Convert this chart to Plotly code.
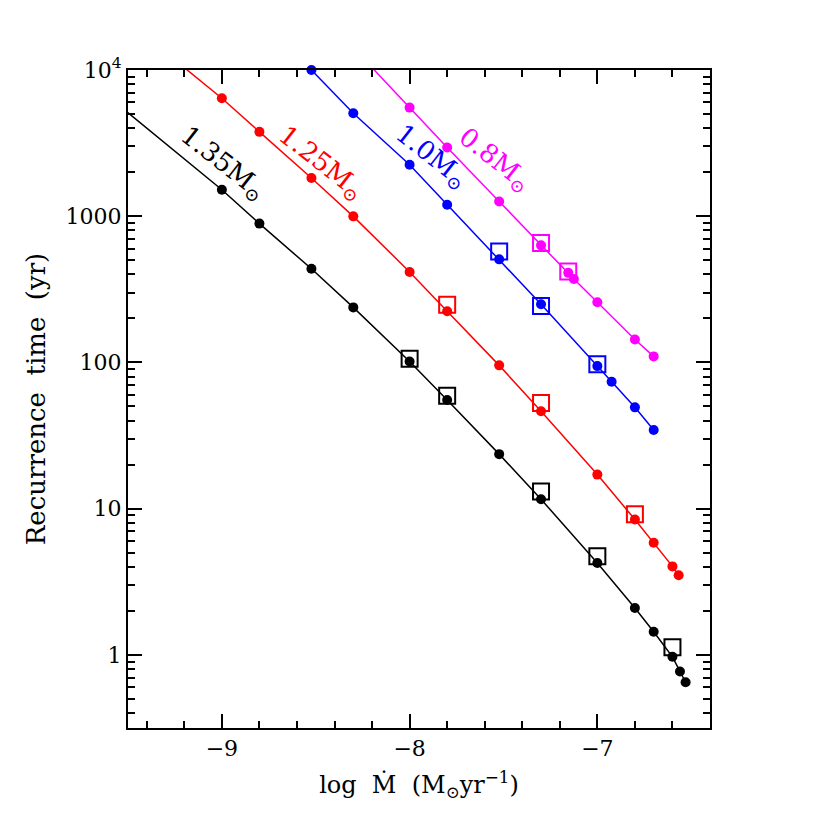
import plotly.graph_objects as go

# --- data (log Mdot, recurrence time in yr) ---
black_x = [-9.7, -9.0, -8.8, -8.523, -8.3, -8.0, -7.8, -7.523, -7.3, -7.0, -6.8, -6.7, -6.6, -6.56, -6.53]
black_y = [8300, 1517, 890, 437, 238, 101.6, 55.3, 23.6, 11.6, 4.25, 2.09, 1.44, 0.97, 0.77, 0.65]
black_sq_x = [-8.0, -7.8, -7.3, -7.0, -6.6]
black_sq_y = [106, 59.3, 13.1, 4.72, 1.13]

red_x = [-9.3, -9.0, -8.8, -8.523, -8.3, -8.0, -7.8, -7.523, -7.3, -7.0, -6.8, -6.7, -6.6, -6.567]
red_y = [13200, 6410, 3776, 1824, 998, 416, 224, 95.5, 46.4, 17.1, 8.43, 5.85, 4.03, 3.5]
red_sq_x = [-7.8, -7.3, -6.8]
red_sq_y = [248, 52.7, 9.17]

blue_x = [-8.523, -8.3, -8.0, -7.8, -7.523, -7.3, -7.0, -6.924, -6.8, -6.7]
blue_y = [10000, 5060, 2248, 1197, 507, 250, 94.4, 73.8, 49.3, 34.5]
blue_sq_x = [-7.523, -7.3, -7.0]
blue_sq_y = [573, 243, 97.2]

mag_x = [-8.3, -8.0, -7.8, -7.523, -7.3, -7.155, -7.125, -7.0, -6.8, -6.7]
mag_y = [14200, 5530, 2950, 1262, 632, 410, 372, 258, 143.5, 110]
mag_sq_x = [-7.3, -7.155]
mag_sq_y = [656, 418]

labels = ["1.35M<sub>⊙</sub>", "1.25M<sub>⊙</sub>", "1.0M<sub>⊙</sub>", "0.8M<sub>⊙</sub>"]
label_x = [-8.995, -8.47, -7.885, -7.55]
label_logy = [3.36, 3.36, 3.41, 3.385]

colors = ["#000000", "#ff0000", "#0000ff", "#ff00ff"]

y_tickvals = [1, 10, 100, 1000, 10000]
y_ticktext = ["1", "10", "100", "1000", "10<sup>4</sup>"]
x_tickvals = [-9, -8, -7]
x_ticktext = ["−9", "−8", "−7"]

FONT = "DejaVu Serif"

fig = go.Figure()
series = [
    (black_x, black_y, black_sq_x, black_sq_y, True),
    (red_x, red_y, red_sq_x, red_sq_y, True),
    (blue_x, blue_y, blue_sq_x, blue_sq_y, False),
    (mag_x, mag_y, mag_sq_x, mag_sq_y, True),
]
for (xs, ys, sx, sy, clip), c in zip(series, colors):
    fig.add_trace(go.Scatter(x=xs, y=ys, mode="lines+markers",
                             line=dict(color=c, width=1.5),
                             marker=dict(color=c, size=10, symbol="circle"),
                             cliponaxis=clip, showlegend=False))
for (xs, ys, sx, sy, clip), c in zip(series, colors):
    fig.add_trace(go.Scatter(x=sx, y=sy, mode="markers",
                             marker=dict(color=c, size=16, symbol="square-open",
                                         line=dict(color=c, width=2)),
                             showlegend=False))

for t, lx, ly, c in zip(labels, label_x, label_logy, colors):
    fig.add_annotation(x=lx, y=ly, text=t, showarrow=False, textangle=38,
                       font=dict(family=FONT, size=26, color=c))

minor_y = [m * 10 ** d for d in range(-1, 4) for m in range(2, 10)]
minor_y = [v for v in minor_y if 0.3 < v < 10000]

fig.update_layout(
    width=830, height=830,
    margin=dict(l=120, r=128, t=62, b=110),
    plot_bgcolor="white", paper_bgcolor="white",
    font=dict(family=FONT, size=20, color="black"),
    xaxis=dict(range=[-9.5, -6.4], tickvals=x_tickvals, ticktext=x_ticktext,
               ticks="inside", ticklen=14, tickwidth=1.5, tickcolor="black",
               showline=True, linewidth=2, linecolor="black", mirror="allticks",
               showgrid=False, zeroline=False,
               minor=dict(dtick=0.2, tick0=0, ticks="inside", ticklen=7,
                          tickwidth=1.5, tickcolor="black", showgrid=False),
               title=dict(text="log  M\u0307  (M<sub>⊙</sub>yr<sup>−1</sup>)",
                          font=dict(family=FONT, size=24), standoff=16),
               tickfont=dict(family=FONT, size=22)),
    yaxis=dict(type="log", range=[-0.5, 4], tickvals=y_tickvals, ticktext=y_ticktext,
               ticks="inside", ticklen=14, tickwidth=1.5, tickcolor="black",
               showline=True, linewidth=2, linecolor="black", mirror="allticks",
               showgrid=False, zeroline=False,
               minor=dict(tickvals=minor_y, ticks="inside", ticklen=7,
                          tickwidth=1.5, tickcolor="black", showgrid=False),
               title=dict(text="Recurrence  time  (yr)",
                          font=dict(family=FONT, size=26), standoff=12),
               tickfont=dict(family=FONT, size=22)),
)

fig.write_html("out.html")
